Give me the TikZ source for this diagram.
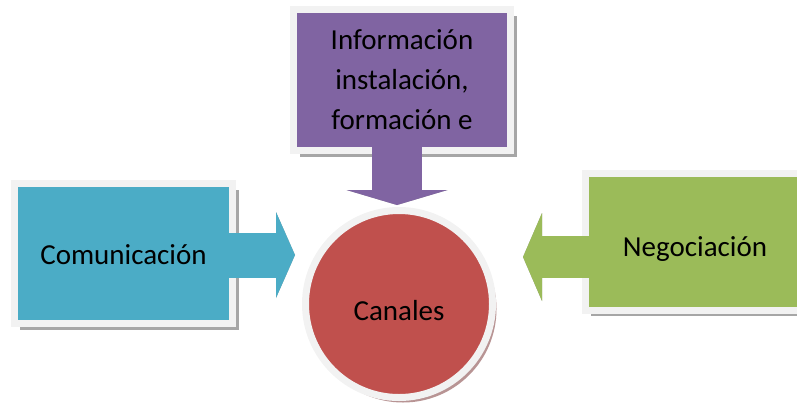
\documentclass[tikz,border=0pt]{standalone}
\usepackage{fontspec}
\setmainfont{Carlito}
\usetikzlibrary{arrows.meta,shadows}

\definecolor{comcol}{HTML}{4BACC6}
\definecolor{infocol}{HTML}{8064A2}
\definecolor{cancol}{HTML}{C0504D}
\definecolor{negcol}{HTML}{9BBB59}
\definecolor{framecol}{HTML}{F2F2F2}
\definecolor{shadowcol}{HTML}{A6A6A6}
\definecolor{roundshadow}{HTML}{B89494}

\begin{document}
\begin{tikzpicture}[x=1bp, y=-1bp,
		box/.style={rectangle, draw=framecol, line width=7bp, inner sep=0pt, align=center,
			font=\fontsize{29bp}{40bp}\selectfont,
			drop shadow={fill=shadowcol, opacity=1, shadow xshift=6bp, shadow yshift=-6bp}},
		barrow/.style args={#1/#2/#3}{line width=#1, -{Triangle[length=#3, width=#2, line width=0pt 0 0]}, shorten <=-7bp}]
	\useasboundingbox (0,0) rectangle (797,405);
	\clip (0,0) rectangle (797,405);

	\node[box, fill=comcol, minimum width=218bp, minimum height=140bp, text height=21bp, text depth=0bp] (com) at (123.5,253.5) {Comunicación};
	\node[box, fill=infocol, minimum width=217bp, minimum height=141bp] (info) at (402,80) {Información\\instalación,\\formación e};
	\node[box, fill=negcol, minimum width=220bp, minimum height=137bp, text height=29bp, text depth=0bp] (neg) at (695,241.5) {Negociación};
	\node[circle, fill=cancol, draw=framecol, line width=7bp, minimum size=187bp, inner sep=0pt,
		font=\fontsize{29bp}{40bp}\selectfont, text height=32bp, text depth=0bp,
		drop shadow={fill=roundshadow, opacity=1, shadow xshift=4bp, shadow yshift=-5bp}] (can) at (399,304) {Canales};

	\coordinate (tipl) at (295,255);
	\coordinate (tipt) at (397,205);
	\coordinate (tipr) at (523,257);

	% arrows with their shadows
	\foreach \col/\dx/\dy in {shadowcol/2/-3, comcol/0/0}
		\draw[barrow=45bp/86bp/19bp, \col, xshift=\dx bp, yshift=\dy bp] (com.east |- tipl) -- (tipl);
	\foreach \col/\dx/\dy in {shadowcol/2/-3, infocol/0/0}
		\draw[barrow=50bp/101bp/15bp, \col, xshift=\dx bp, yshift=\dy bp] (info.south -| tipt) -- (tipt);
	\foreach \col/\dx/\dy in {shadowcol/2/-3, negcol/0/0}
		\draw[barrow=42bp/88bp/19bp, \col, xshift=\dx bp, yshift=\dy bp] (neg.west |- tipr) -- (tipr);
\end{tikzpicture}
\end{document}
